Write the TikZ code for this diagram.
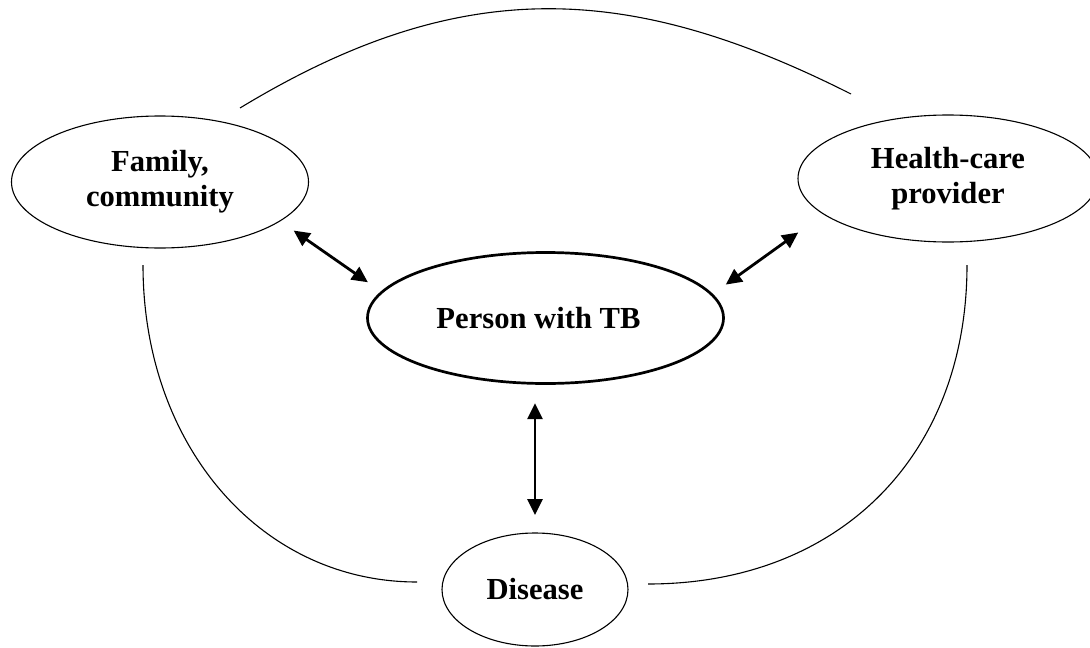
\documentclass[tikz,border=0pt]{standalone}
\usepackage{fontspec}
\setmainfont{Liberation Serif}
\usetikzlibrary{shapes.geometric,arrows.meta}
\begin{document}
\begin{tikzpicture}[x=1pt,y=-1pt,
  bubble/.style={ellipse,draw,line width=1.1pt,inner sep=0pt,outer sep=0pt,align=center,
    font=\fontsize{30.6}{35}\selectfont\bfseries},
  link/.style={line width=1.1pt},
  twoway/.style={line width=2.8pt,{Triangle[length=16pt,width=15pt]}-{Triangle[length=16pt,width=15pt]}}]
\useasboundingbox (0,0) rectangle (1090,648);
% nodes
\node[bubble,minimum width=297pt,minimum height=132pt] (fam) at (160,182) {Family,\\community};
\node[bubble,minimum width=300pt,minimum height=127pt] (hea) at (948,178.5) {Health-care\\provider};
\node[bubble,line width=2.7pt,minimum width=356pt,minimum height=131pt] (per) at (545.5,318) {\hspace*{-14pt}Person with TB};
\node[bubble,minimum width=186pt,minimum height=113pt] (dis) at (535,589.5) {Disease};
% free ends of the outer arcs
\coordinate (t1) at (240,108);
\coordinate (t2) at (851,94);
\coordinate (l1) at (143,265);
\coordinate (l2) at (417,582);
\coordinate (r1) at (967,265);
\coordinate (r2) at (648,584);
% outer arcs
\draw[link] (t1) .. controls (461,-26) and (629,-18) .. (t2);
\draw[link] (l1) .. controls (143,446) and (261,582) .. (l2);
\draw[link] (r1) .. controls (967,456) and (839,584) .. (r2);
% two-way arrows
\draw[twoway,shorten <=16.8pt,shorten >=17.2pt] (fam.-18.3) -- (per.171.3);
\draw[twoway,shorten <=31.5pt,shorten >=17.2pt] (hea.196) -- (per.8.7);
\draw[twoway,shorten <=19.6pt,shorten >=18pt] (per.south -| dis.north) -- (dis.north);
\end{tikzpicture}
\end{document}
